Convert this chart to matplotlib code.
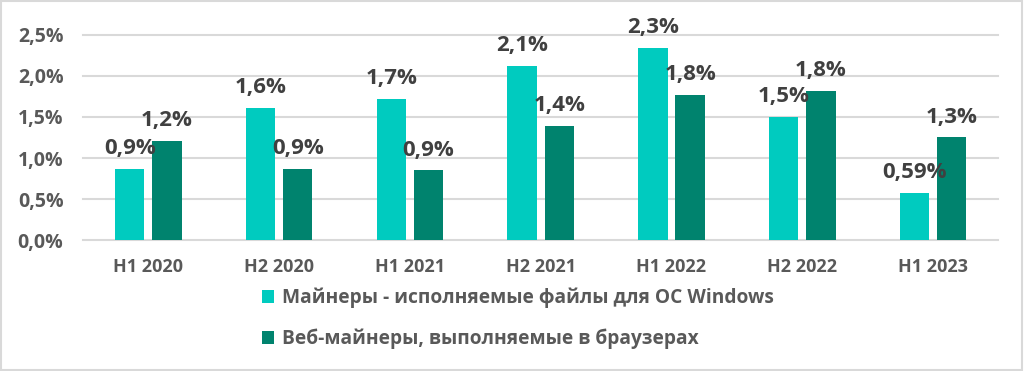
import matplotlib
matplotlib.use("Agg")
import matplotlib.pyplot as plt
import numpy as np
from matplotlib.patches import Rectangle

# data
categories = ["H1 2020", "H2 2020", "H1 2021", "H2 2021", "H1 2022", "H2 2022", "H1 2023"]
windows_miners = [0.87, 1.61, 1.72, 2.12, 2.34, 1.50, 0.58]
web_miners = [1.21, 0.87, 0.85, 1.39, 1.77, 1.82, 1.25]
windows_labels = ["0,9%", "1,6%", "1,7%", "2,1%", "2,3%", "1,5%", "0,59%"]
web_labels = ["1,2%", "0,9%", "0,9%", "1,4%", "1,8%", "1,8%", "1,3%"]
series_names = ["Майнеры - исполняемые файлы для ОС Windows",
                "Веб-майнеры, выполняемые в браузерах"]
yticks = [0.0, 0.5, 1.0, 1.5, 2.0, 2.5]

CYAN = "#00cbbf"
DARK = "#00836e"
TEXT = "#595959"
LABEL = "#404040"

plt.rcParams["font.family"] = ["Open Sans", "DejaVu Sans"]

fig = plt.figure(figsize=(10.24, 3.71), dpi=100)
ax = fig.add_axes([0.081, 0.352, 0.894, 0.555])

x = np.arange(len(categories))
width = 0.225
gap = 0.03
b1 = ax.bar(x - width / 2 - gap, windows_miners, width, color=CYAN, zorder=3)
b2 = ax.bar(x + width / 2 + gap, web_miners, width, color=DARK, zorder=3)

for bars, labels in ((b1, windows_labels), (b2, web_labels)):
    for bar, lab in zip(bars, labels):
        ax.annotate(lab, (bar.get_x() + bar.get_width() / 2, bar.get_height()),
                    xytext=(0, 7), textcoords="offset points",
                    ha="center", va="bottom", fontsize=16, fontweight="bold",
                    color=LABEL, zorder=4, annotation_clip=False)

ax.set_xlim(-0.5, len(categories) - 0.5)
ax.set_ylim(0, 2.5)
ax.set_yticks(yticks)
ax.set_yticklabels([f"{v:.1f}%".replace(".", ",") for v in yticks],
                   fontsize=14, fontweight="bold", color=TEXT)
ax.set_xticks(x)
ax.set_xticklabels(categories, fontsize=13, fontweight="bold", color=TEXT)
ax.tick_params(axis="both", length=0)
ax.tick_params(axis="y", pad=14)
ax.tick_params(axis="x", pad=13)
ax.grid(axis="y", color="#d9d9d9", linewidth=1.5, zorder=0)
ax.set_axisbelow(True)
for s in ax.spines.values():
    s.set_visible(False)
for art in ax.get_ygridlines():
    art.set_clip_on(False)

leg = fig.legend([b1, b2], series_names, loc="upper left",
                 bbox_to_anchor=(0.248, 0.245), frameon=False,
                 prop={"size": 13.8, "weight": "bold"}, labelcolor=TEXT,
                 handlelength=0.65, handleheight=0.65, handletextpad=0.4,
                 labelspacing=1.05, borderaxespad=0)

# light frame around the whole chart
fig.patches.append(Rectangle((0.001, 0.002), 0.997, 0.994, transform=fig.transFigure,
                             fill=False, edgecolor="#d9d9d9", linewidth=1.5))

fig.savefig("out.png", dpi=100)
